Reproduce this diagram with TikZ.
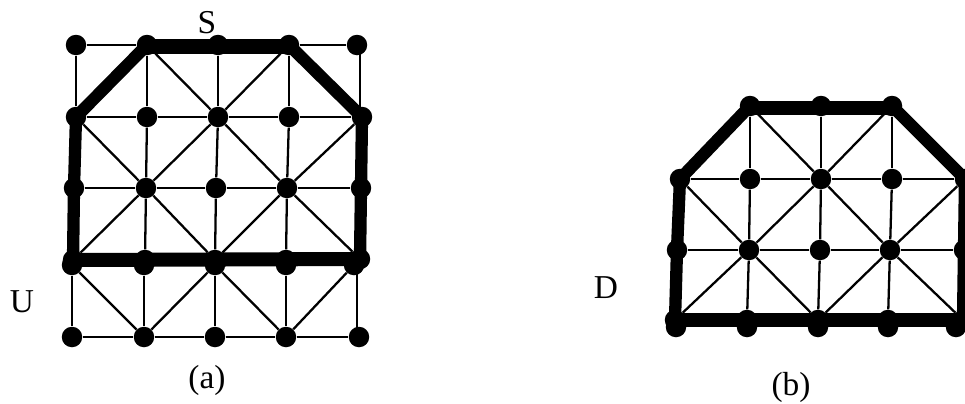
\documentclass[tikz,border=0pt]{standalone}
\usepackage{fontspec}
\setmainfont{Liberation Serif}
\usetikzlibrary{positioning}

\begin{document}
\begin{tikzpicture}[
  x=0.02cm, y=-0.02cm,
  dot/.style={circle, fill=black, inner sep=0pt, minimum size=0.41cm},
  lbl/.style={font=\fontsize{19pt}{22pt}\selectfont, inner sep=0pt},
  thin edge/.style={line width=1.3pt, color=black},
  thick edge/.style={line width=7pt, color=black, line join=round},
  band edge/.style={line width=8pt, color=black}
]
  \clip (0,0) rectangle (965,403);
  % left mesh
  \node[dot] (a1) at (76,45) {};
  \node[dot] (a2) at (147,45) {};
  \node[dot] (a3) at (218,45) {};
  \node[dot] (a4) at (289,45) {};
  \node[dot] (a5) at (357,45) {};
  \node[dot] (b1) at (76,117) {};
  \node[dot] (b2) at (147,117) {};
  \node[dot] (b3) at (218,117) {};
  \node[dot] (b4) at (289,117) {};
  \node[dot] (b5) at (362,117) {};
  \node[dot] (c1) at (74,188) {};
  \node[dot] (c2) at (146,188) {};
  \node[dot] (c3) at (216,188) {};
  \node[dot] (c4) at (287,188) {};
  \node[dot] (c5) at (361,188) {};
  \node[dot] (d1) at (73,260) {};
  \node[dot] (d2) at (145,260) {};
  \node[dot] (d3) at (215,260) {};
  \node[dot] (d4) at (286,260) {};
  \node[dot] (d5) at (360,259) {};
  \node[dot] (e1) at (72,265) {};
  \node[dot] (e2) at (144,265) {};
  \node[dot] (e3) at (215,265) {};
  \node[dot] (e4) at (286,265) {};
  \node[dot] (e5) at (354,265) {};
  \node[dot] (f1) at (72,337) {};
  \node[dot] (f2) at (144,337) {};
  \node[dot] (f3) at (215,337) {};
  \node[dot] (f4) at (286,337) {};
  \node[dot] (f5) at (359,337) {};
  \coordinate (a5s) at (360,45);
  \coordinate (b5n) at (360,117);
  \coordinate (e5s) at (357,265);
  \coordinate (f5n) at (357,337);

  \draw[thin edge] (a1) -- (a2);
  \draw[thin edge] (a4) -- (a5);
  \draw[thin edge] (a1) -- (b1);
  \draw[thin edge] (a2) -- (b2);
  \draw[thin edge] (a3) -- (b3);
  \draw[thin edge] (a4) -- (b4);
  \draw[thin edge] (a5s) -- (b5n);
  \draw[thin edge] (a2) -- (b3);
  \draw[thin edge] (a4) -- (b3);
  \draw[thin edge] (b1) -- (b2) -- (b3) -- (b4) -- (b5);
  \draw[thin edge] (b2) -- (c2);
  \draw[thin edge] (b3) -- (c3);
  \draw[thin edge] (b4) -- (c4);
  \draw[thin edge] (b1) -- (c2);
  \draw[thin edge] (b3) -- (c2);
  \draw[thin edge] (b3) -- (c4);
  \draw[thin edge] (b5) -- (c4);
  \draw[thin edge] (c1) -- (c2) -- (c3) -- (c4) -- (c5);
  \draw[thin edge] (c2) -- (d2);
  \draw[thin edge] (c3) -- (d3);
  \draw[thin edge] (c4) -- (d4);
  \draw[thin edge] (c2) -- (d1);
  \draw[thin edge] (c2) -- (d3);
  \draw[thin edge] (c4) -- (d3);
  \draw[thin edge] (c4) -- (d5);
  \draw[thin edge] (e1) -- (f1);
  \draw[thin edge] (e2) -- (f2);
  \draw[thin edge] (e3) -- (f3);
  \draw[thin edge] (e4) -- (f4);
  \draw[thin edge] (e5s) -- (f5n);
  \draw[thin edge] (e1) -- (f2);
  \draw[thin edge] (e3) -- (f2);
  \draw[thin edge] (e3) -- (f4);
  \draw[thin edge] (e5) -- (f4);
  \draw[thin edge] (f1) -- (f2) -- (f3) -- (f4) -- (f5);
  \draw[thick edge] (d1.center) -- (c1.center) -- (b1.center) -- (a2.center);
  \draw[thick edge] (a4.center) -- (b5.center) -- (c5.center) -- (d5.center);
  \draw[band edge] ([yshift=-0.03cm]a2.center) -- ([yshift=-0.03cm]a4.center);
  \draw[band edge] (d1.center) -- (d5.center);

  % right mesh
  \node[dot] (p2) at (750,106) {};
  \node[dot] (p3) at (821,106) {};
  \node[dot] (p4) at (892,106) {};
  \node[dot] (q1) at (680,179) {};
  \node[dot] (q2) at (750,179) {};
  \node[dot] (q3) at (821,179) {};
  \node[dot] (q4) at (892,179) {};
  \node[dot] (q5) at (965,179) {};
  \node[dot] (r1) at (677,250) {};
  \node[dot] (r2) at (749,250) {};
  \node[dot] (r3) at (820,250) {};
  \node[dot] (r4) at (890,250) {};
  \node[dot] (r5) at (964,250) {};
  \node[dot] (s1) at (675,320) {};
  \node[dot] (s2) at (747,320) {};
  \node[dot] (s3) at (818,320) {};
  \node[dot] (s4) at (888,320) {};
  \node[dot] (s5) at (963,320) {};
  \node[dot] (t1) at (676,327) {};
  \node[dot] (t2) at (747,327) {};
  \node[dot] (t3) at (818,327) {};
  \node[dot] (t4) at (888,327) {};
  \node[dot] (t5) at (956,327) {};

  \draw[thin edge] (p2) -- (q2);
  \draw[thin edge] (p3) -- (q3);
  \draw[thin edge] (p4) -- (q4);
  \draw[thin edge] (p2) -- (q3);
  \draw[thin edge] (p4) -- (q3);
  \draw[thin edge] (q1) -- (q2) -- (q3) -- (q4) -- (q5);
  \draw[thin edge] (q2) -- (r2);
  \draw[thin edge] (q3) -- (r3);
  \draw[thin edge] (q4) -- (r4);
  \draw[thin edge] (q1) -- (r2);
  \draw[thin edge] (q3) -- (r2);
  \draw[thin edge] (q3) -- (r4);
  \draw[thin edge] (q5) -- (r4);
  \draw[thin edge] (r1) -- (r2) -- (r3) -- (r4) -- (r5);
  \draw[thin edge] (r2) -- (s2);
  \draw[thin edge] (r3) -- (s3);
  \draw[thin edge] (r4) -- (s4);
  \draw[thin edge] (r2) -- (s1);
  \draw[thin edge] (r2) -- (s3);
  \draw[thin edge] (r4) -- (s3);
  \draw[thin edge] (r4) -- (s5);
  \draw[thick edge] (s1.center) -- (r1.center) -- (q1.center) -- (p2.center);
  \draw[thick edge] (p4.center) -- (q5.center) -- (r5.center) -- (s5.center);
  \draw[band edge] ([yshift=-0.04cm]p2.center) -- ([yshift=-0.04cm]p4.center);
  \draw[band edge] (s1.center) -- (s5.center);

  % labels
  \node[lbl] (lblS) at (207,23) {S};
  \node[lbl] (lblU) at (22,302) {U};
  \node[lbl] (lbla) at (207,380) {(a)};
  \node[lbl] (lblD) at (606,288) {D};
  \node[lbl] (lblb) at (791,387) {(b)};
\end{tikzpicture}
\end{document}
